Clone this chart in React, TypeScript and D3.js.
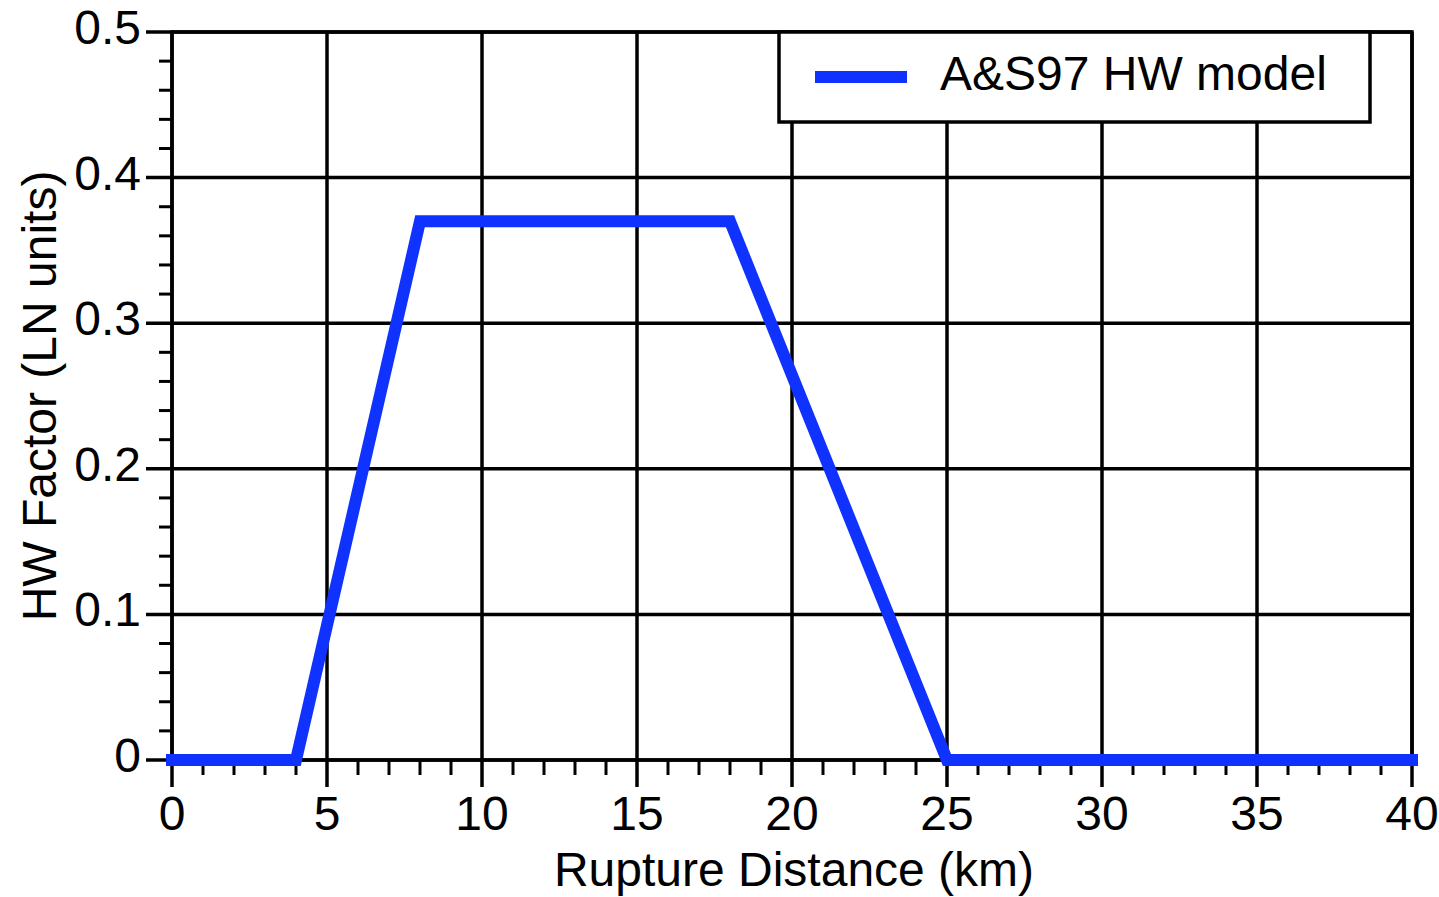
import React from "react";
import * as d3 from "d3";

const distances = [0, 4, 8, 18, 25, 40];
const hwFactor = [0, 0, 0.37, 0.37, 0, 0];
const xTicks = [0, 5, 10, 15, 20, 25, 30, 35, 40];
const yTicks = [0, 0.1, 0.2, 0.3, 0.4, 0.5];
const yTickLabels = ["0", "0.1", "0.2", "0.3", "0.4", "0.5"];
const seriesName = "A&S97 HW model";
const xTitle = "Rupture Distance (km)";
const yTitle = "HW Factor (LN units)";

export default function App() {
  const W = 1439, H = 897;
  const left = 172, right = 1412, top = 32, bottom = 760;
  const x = d3.scaleLinear().domain([0, 40]).range([left, right]);
  const y = d3.scaleLinear().domain([0, 0.5]).range([bottom, top]);
  const xMinor = d3.range(0, 41, 1).filter((v) => v % 5 !== 0);
  const yMinor = d3.range(0, 51, 2).map((v) => v / 100).filter((v) => Math.round(v * 100) % 10 !== 0);
  const pts = distances.map((d, i) => [d, hwFactor[i]] as [number, number]);
  const line = d3.line<[number, number]>().x((d) => x(d[0])).y((d) => y(d[1]));
  const font = "Liberation Sans, Arial, Helvetica, sans-serif";
  const fs = 48;
  return (
    <svg width={W} height={H} style={{ position: "absolute", left: 0, top: 0, background: "#fff" }}>
      <rect width={W} height={H} fill="#fff" />
      {xTicks.map((t) => (
        <line key={"gx" + t} x1={x(t)} x2={x(t)} y1={top} y2={bottom + 27} stroke="#000" strokeWidth={3.5} />
      ))}
      {yTicks.map((t) => (
        <line key={"gy" + t} x1={left - 26} x2={right} y1={y(t)} y2={y(t)} stroke="#000" strokeWidth={3.5} />
      ))}
      {xMinor.map((t) => (
        <line key={"mx" + t} x1={x(t)} x2={x(t)} y1={bottom} y2={bottom + 15} stroke="#000" strokeWidth={3} />
      ))}
      {yMinor.map((t) => (
        <line key={"my" + t} x1={left - 13} x2={left} y1={y(t)} y2={y(t)} stroke="#000" strokeWidth={3} />
      ))}
      <rect x={left} y={top} width={right - left} height={bottom - top} fill="none" stroke="#000" strokeWidth={3.5} />
      <path d={line(pts) || ""} fill="none" stroke="#0f32ff" strokeWidth={12} strokeLinecap="square" strokeLinejoin="miter" />
      {xTicks.map((t) => (
        <text key={"lx" + t} x={x(t)} y={830} textAnchor="middle" fontFamily={font} fontSize={fs} fill="#000">
          {t}
        </text>
      ))}
      {yTicks.map((t, i) => (
        <text key={"ly" + t} x={141} y={y(t) + 12} textAnchor="end" fontFamily={font} fontSize={fs} fill="#000">
          {yTickLabels[i]}
        </text>
      ))}
      <text x={(left + right) / 2 + 2} y={886} textAnchor="middle" fontFamily={font} fontSize={fs} fill="#000">
        {xTitle}
      </text>
      <text transform={`translate(56,${(top + bottom) / 2}) rotate(-90)`} textAnchor="middle" fontFamily={font} fontSize={fs} fill="#000">
        {yTitle}
      </text>
      <rect x={779} y={top} width={591} height={90} fill="#fff" stroke="#000" strokeWidth={3.5} />
      <line x1={815} x2={907} y1={77} y2={77} stroke="#0f32ff" strokeWidth={12} />
      <text x={940} y={90} fontFamily={font} fontSize={fs} fill="#000">
        {seriesName}
      </text>
    </svg>
  );
}
